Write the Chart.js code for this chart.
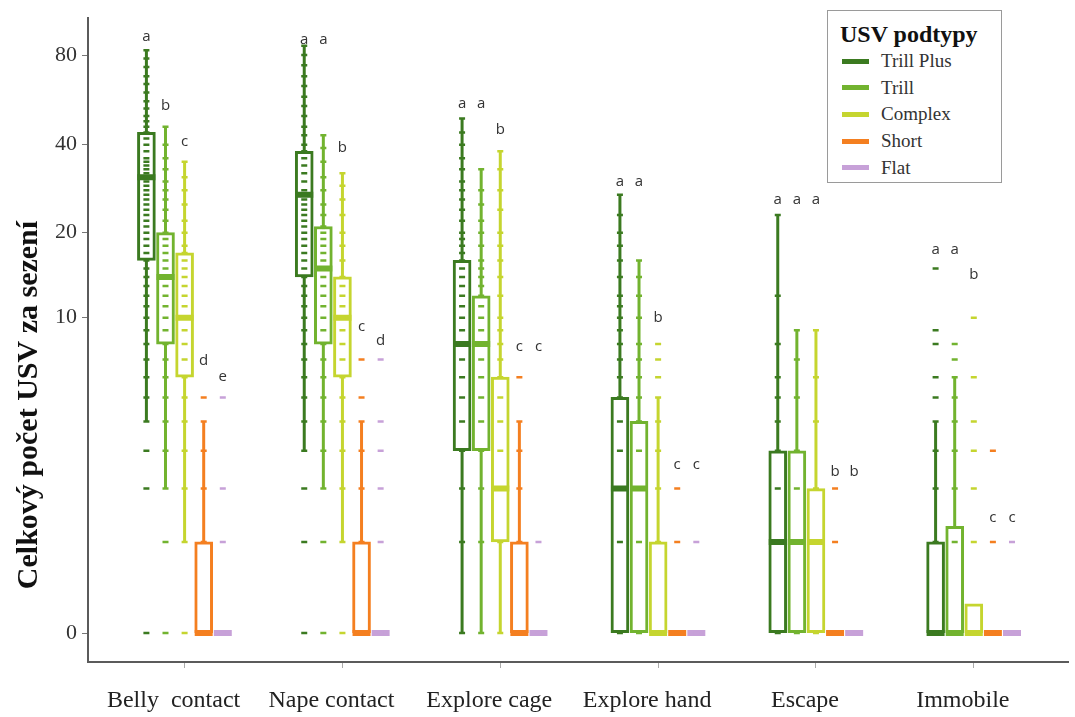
<!DOCTYPE html>
<html>
<head>
<meta charset="utf-8">
<script src="https://cdn.jsdelivr.net/npm/chart.js@4/dist/chart.umd.min.js"></script>
<style>
  body { margin: 0; background: #fff; }
  #wrap { position: relative; width: 1075px; height: 717px; }
  #legend { position: absolute; left: 827px; top: 10px; width: 173px; height: 171px; border: 1px solid #9a9a9a; background: #fff; font-family: 'Liberation Serif', 'Times New Roman', serif; }
  #legend h3 { margin: 0; padding: 9px 0 0 12px; font-size: 24px; line-height: 28px; font-weight: bold; color: #111; }
  .row { display: flex; align-items: center; height: 26.6px; padding-left: 14px; font-size: 19px; color: #333; }
  .sw { width: 27px; height: 5px; margin-right: 12px; }
</style>
</head>
<body>
<div id="wrap">
  <canvas id="chart" width="1075" height="717"></canvas>
  <div id="legend"><h3>USV podtypy</h3></div>
</div>
<script>
const categories = ['Belly  contact', 'Nape contact', 'Explore cage', 'Explore hand', 'Escape', 'Immobile'];
const subtypes = ['Trill Plus', 'Trill', 'Complex', 'Short', 'Flat'];
const colors = ['#3b7a20', '#72b32f', '#c5d52f', '#f47f20', '#c7a1d8'];
const yTicks = [0, 10, 20, 40, 80];

// rows = subtypes, columns = categories
const q1 = [
  [16, 14, 3, 0, 0, 0],
  [8, 8, 3, 0, 0, 0],
  [6, 6, 1, 0, 0, 0],
  [0, 0, 0, 0, 0, 0],
  [0, 0, 0, 0, 0, 0],
];
const medians = [
  [31, 27, 8, 2, 1, 0],
  [14, 15, 8, 2, 1, 0],
  [10, 10, 2, 0, 1, 0],
  [0, 0, 0, 0, 0, 0],
  [0, 0, 0, 0, 0, 0],
];
const q3 = [
  [44, 38, 16, 5, 3, 1],
  [20, 21, 12, 4, 3, 1.25],
  [17, 14, 6, 1, 2, 0.25],
  [1, 1, 1, 0, 0, 0],
  [0, 0, 0, 0, 0, 0],
];
const whiskerLo = [
  [4, 3, 0, 0, 0, 1],
  [2, 2, 0, 0, 0, 1.25],
  [1, 1, 0, 0, 0, 0.25],
  [1, 1, 1, 0, 0, 0],
  [0, 0, 0, 0, 0, 0],
];
const whiskerHi = [
  [83, 86, 49, 27, 23, 4],
  [46, 43, 33, 16, 9, 6],
  [35, 32, 38, 5, 9, 0.25],
  [4, 4, 4, 0, 0, 0],
  [0, 0, 0, 0, 0, 0],
];
const points = [
  [ // Trill Plus
    [0,2,3,4,5,6,7,8,9,10,11,12,13,14,15,16,17,18,19,20,21,22,23,24,25,26,27,28,29,30,31,32,33,34,35,36,38,40,42,44,46,48,50,53,56,60,64,68,73,78,83],
    [0,1,2,3,4,5,6,7,8,9,10,11,12,13,14,15,16,17,18,19,20,21,22,23,24,25,26,27,28,30,32,34,36,38,40,43,46,50,54,58,63,68,74,80,86],
    [0,1,2,3,4,5,6,7,8,9,10,11,12,13,14,15,16,17,18,19,20,22,24,26,28,30,33,36,40,44,49],
    [0,1,2,3,4,5,6,7,8,9,10,11,12,14,16,18,20,23,27],
    [0,1,2,3,4,5,6,8,12,23],
    [0,1,2,3,4,5,6,8,9,15],
  ],
  [ // Trill
    [0,1,2,3,4,5,6,7,8,9,10,11,12,13,14,15,16,17,18,19,20,22,24,26,28,30,33,36,40,46],
    [0,1,2,3,4,5,6,7,8,9,10,11,12,13,14,15,16,17,18,19,20,21,23,25,28,31,35,39,43],
    [0,1,2,3,4,5,6,7,8,9,10,11,12,13,14,15,16,18,20,22,25,28,33],
    [0,1,2,3,4,5,6,7,8,10,12,14,16],
    [0,1,2,3,5,7,9],
    [0,1,2,3,4,5,6,7,8],
  ],
  [ // Complex
    [0,1,2,3,4,5,6,7,8,9,10,11,12,13,14,15,16,17,18,20,22,25,28,31,35],
    [0,1,2,3,4,5,6,7,8,9,10,11,12,13,14,16,18,20,23,26,29,32],
    [0,1,2,3,4,5,6,7,8,9,10,12,14,16,18,20,24,28,33,38],
    [0,1,2,3,4,5,6,7,8],
    [0,1,2,4,6,9],
    [0,1,2,3,4,6,10],
  ],
  [ // Short
    [0,1,2,3,4,5],
    [0,1,2,3,4,5,7],
    [0,1,2,3,4,6],
    [0,1,2],
    [0,1,2],
    [0,1,3],
  ],
  [ // Flat
    [0,1,2,5],
    [0,1,2,3,4,7],
    [0,1],
    [0,1],
    [0],
    [0,1],
  ],
];
// significance letters, one string per category (one letter per subtype)
const letters = ['abcde', 'aabcd', 'aabcc', 'aabcc', 'aaabb', 'aabcc'];
const letterAt = [
  [92, 54, 41, 6.9, 6.0],
  [90, 90, 39, 9.3, 8.2],
  [55, 55, 45, 7.8, 7.8],
  [30, 30, 10, 2.6, 2.6],
  [26, 26, 26, 2.4, 2.4],
  [17.5, 17.5, 14.2, 1.4, 1.4],
];

// pseudo-log axis: log(count + 1)
const tf = v => Math.log(v + 1);
const slot = 0.121;     // distance between neighbouring boxes (category units)
const halfBox = 0.057;  // half box width (category units)

const datasets = [];
subtypes.forEach((name, s) => {
  const xs = categories.map((c, i) => i + (s - 2) * slot);
  const whisk = [];
  const med = [];
  const pts = [];
  xs.forEach((x, i) => {
    whisk.push({x, y: tf(whiskerLo[s][i])}, {x, y: tf(whiskerHi[s][i])}, {x, y: null});
    med.push({x: x - halfBox, y: tf(medians[s][i])}, {x: x + halfBox, y: tf(medians[s][i])}, {x, y: null});
    points[s][i].forEach(v => pts.push({x, y: tf(v)}));
  });
  datasets.push({
    type: 'line', data: whisk, borderColor: colors[s], borderWidth: 3,
    pointRadius: 0, spanGaps: false, order: 4,
  });
  datasets.push({
    type: 'bar', data: xs.map((x, i) => ({x, y: [tf(q1[s][i]), tf(q3[s][i])]})),
    backgroundColor: '#fff', borderColor: colors[s], borderWidth: 3,
    borderSkipped: false, barThickness: 18, grouped: false, order: 3,
  });
  datasets.push({
    type: 'line', data: med, borderColor: colors[s], borderWidth: 6,
    borderCapStyle: 'butt', pointRadius: 0, spanGaps: false, order: 2,
  });
  datasets.push({
    type: 'scatter', data: pts, pointStyle: 'line', pointRadius: 3,
    pointBorderWidth: 2.5, borderColor: colors[s], backgroundColor: colors[s], order: 1,
  });
});

const lettersPlugin = {
  id: 'letters',
  afterDatasetsDraw(chart) {
    const {ctx, scales: {x, y}} = chart;
    ctx.save();
    ctx.font = '15px "Open Sans", sans-serif';
    ctx.fillStyle = '#333';
    ctx.textAlign = 'center';
    ctx.textBaseline = 'middle';
    categories.forEach((c, i) => {
      subtypes.forEach((n, s) => {
        ctx.fillText(letters[i][s], x.getPixelForValue(i + (s - 2) * slot), y.getPixelForValue(tf(letterAt[i][s])));
      });
    });
    ctx.restore();
  }
};

const yTitlePlugin = {
  id: 'yTitle',
  afterDraw(chart) {
    const {ctx} = chart;
    ctx.save();
    ctx.translate(29, 405);
    ctx.rotate(-Math.PI / 2);
    ctx.font = 'bold 30px "Liberation Serif", "Times New Roman", serif';
    ctx.fillStyle = '#111';
    ctx.textAlign = 'center';
    ctx.textBaseline = 'middle';
    ctx.fillText('Celkový počet USV za sezení', 0, 0);
    ctx.restore();
  }
};

new Chart(document.getElementById('chart'), {
  type: 'bar',
  data: {datasets},
  options: {
    responsive: false,
    animation: false,
    devicePixelRatio: 1,
    layout: {padding: {top: 15, right: 3, left: 0, bottom: 0}},
    plugins: {legend: {display: false}, tooltip: {enabled: false}},
    scales: {
      x: {
        type: 'linear', offset: false, min: -0.612, max: 5.6,
        afterBuildTicks: scale => { scale.ticks = categories.map((c, i) => ({value: i})); },
        afterFit: scale => { scale.height = 55; },
        grid: {offset: false, drawOnChartArea: false, tickLength: 6, tickColor: '#aaa'},
        border: {color: '#5b5b5b', width: 2},
        ticks: {
          callback: (v, i) => categories[i],
          autoSkip: false, maxRotation: 0, padding: 18, labelOffset: -11,
          color: '#222', font: {family: '"Liberation Serif", "Times New Roman", serif', size: 24},
        },
      },
      y: {
        type: 'linear', min: -0.22, max: 4.675,
        afterBuildTicks: scale => { scale.ticks = yTicks.map(v => ({value: tf(v)})); },
        afterFit: scale => { scale.width = 88; },
        grid: {drawOnChartArea: false, tickLength: 6, tickColor: '#777'},
        border: {color: '#5b5b5b', width: 2},
        ticks: {
          callback: (v, i) => yTicks[i],
          padding: 5, color: '#333',
          font: {family: '"Liberation Serif", "Times New Roman", serif', size: 22},
        },
      },
    },
  },
  plugins: [lettersPlugin, yTitlePlugin],
});

const legend = document.getElementById('legend');
subtypes.forEach((name, s) => {
  const row = document.createElement('div');
  row.className = 'row';
  row.innerHTML = '<span class="sw" style="background:' + colors[s] + '"></span>' + name;
  legend.appendChild(row);
});
</script>
</body>
</html>
